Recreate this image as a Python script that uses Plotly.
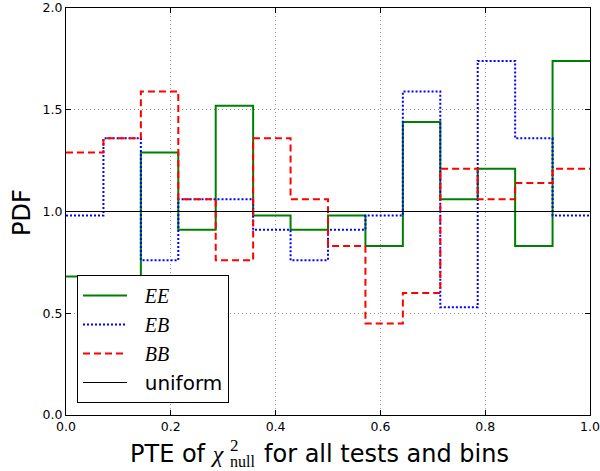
import plotly.graph_objects as go

# 14 equal-width PTE bins on [0, 1]
bin_edges = [i / 14 for i in range(15)]

ee_pdf = [0.68, 0.68, 1.29, 0.91, 1.52, 0.98, 0.91, 0.98, 0.83, 1.44, 1.06, 1.21, 0.83, 1.74]
eb_pdf = [0.98, 1.36, 0.76, 1.06, 1.06, 0.91, 0.76, 0.91, 0.98, 1.59, 0.53, 1.74, 1.36, 0.98]
bb_pdf = [1.29, 1.36, 1.59, 1.06, 0.76, 1.36, 1.06, 0.83, 0.45, 0.60, 1.21, 1.06, 1.14, 1.21]
uniform_x = [0.0, 1.0]
uniform_y = [1.0, 1.0]

x_ticks = [0.0, 0.2, 0.4, 0.6, 0.8, 1.0]
y_ticks = [0.0, 0.5, 1.0, 1.5, 2.0]

SERIF = "Liberation Serif"
W, H = 600, 471
# plot area in page pixels: x 66..590, y 8..415
ML, MT = 66, 8
PW, PH = 524, 407
MR, MB = W - ML - PW, H - MT - PH


def px_x(px):
    return (px - ML) / PW


def px_y(py):
    return (MT + PH - py) / PH


def math_name(s):
    return f"&nbsp;&nbsp;<span style='font-family:{SERIF}'><i>{s}</i></span>"


def step(vals):
    return vals + [vals[-1]]


fig = go.Figure()
fig.add_trace(go.Scatter(x=bin_edges, y=step(ee_pdf), mode="lines", line_shape="hv",
                         line=dict(color="#008000", width=2), name=math_name("EE")))
fig.add_trace(go.Scatter(x=bin_edges, y=step(eb_pdf), mode="lines", line_shape="hv",
                         line=dict(color="#0000ff", width=2, dash="2px,2px"), name=math_name("EB")))
fig.add_trace(go.Scatter(x=bin_edges, y=step(bb_pdf), mode="lines", line_shape="hv",
                         line=dict(color="#ff0000", width=2, dash="7px,4px"), name=math_name("BB")))
fig.add_trace(go.Scatter(x=uniform_x, y=uniform_y, mode="lines",
                         line=dict(color="black", width=1), name="&nbsp;&nbsp;uniform"))

axis_common = dict(
    showline=True, linecolor="black", linewidth=1, mirror="ticks",
    ticks="inside", ticklen=5, tickcolor="black",
    showgrid=True, gridcolor="#999999", griddash="1px,3px", gridwidth=1,
    zeroline=False, tickfont=dict(size=12.5, color="black"),
    automargin=False, ticklabeloverflow="allow",
)

fig.update_xaxes(range=[0, 1], tickvals=x_ticks, ticktext=[f"{v:.1f}" for v in x_ticks],
                 **axis_common)
fig.update_yaxes(range=[0, 2], tickvals=y_ticks, ticktext=[f"{v:.1f}" for v in y_ticks],
                 **axis_common)

ann = []
# y-axis label
ann.append(dict(text="PDF", x=px_x(22), y=px_y(213), xref="paper", yref="paper",
                showarrow=False, textangle=-90, font=dict(size=24, color="black"),
                xanchor="center", yanchor="middle"))
# x-axis label built from pieces so the sup/sub stack like mathtext
ann.append(dict(text=f"PTE of <span style='font-family:{SERIF}'><i>χ</i></span>",
                x=px_x(227), y=px_y(454), xref="paper", yref="paper", showarrow=False,
                font=dict(size=24, color="black"), xanchor="right", yanchor="middle"))
ann.append(dict(text="for all tests and bins",
                x=px_x(262), y=px_y(454), xref="paper", yref="paper", showarrow=False,
                font=dict(size=24, color="black"), xanchor="left", yanchor="middle"))
ann.append(dict(text="2", x=px_x(234), y=px_y(446), xref="paper", yref="paper",
                showarrow=False, font=dict(size=17, color="black", family=SERIF),
                xanchor="center", yanchor="middle"))
ann.append(dict(text="null", x=px_x(242), y=px_y(461), xref="paper", yref="paper",
                showarrow=False, font=dict(size=16, color="black", family=SERIF),
                xanchor="center", yanchor="middle"))

fig.update_layout(
    width=W, height=H,
    margin=dict(l=ML, r=MR, t=MT, b=MB),
    paper_bgcolor="white", plot_bgcolor="white",
    font=dict(family="DejaVu Sans", color="black"),
    showlegend=True,
    annotations=ann,
    legend=dict(x=px_x(77), y=px_y(275), xanchor="left", yanchor="top",
                bgcolor="white", bordercolor="black", borderwidth=1,
                font=dict(size=20, color="black"), itemwidth=44, tracegroupgap=0),
)

fig.write_html("out.html", config={"displayModeBar": False},
               post_script="document.body.style.margin='0';document.body.style.overflow='hidden';")
